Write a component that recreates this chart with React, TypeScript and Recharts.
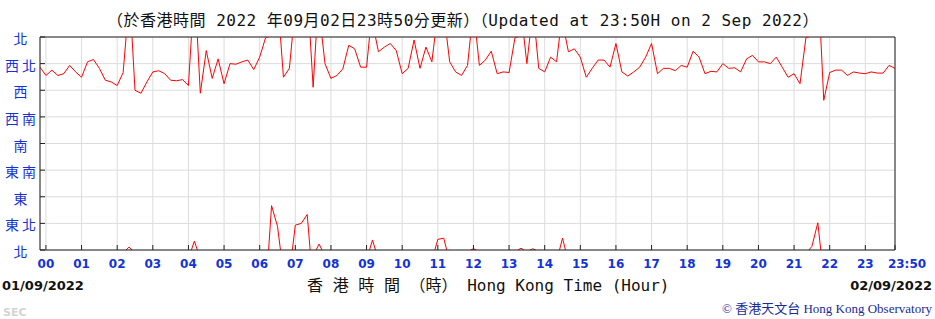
import React from 'react';
import { LineChart, Line, XAxis, YAxis, CartesianGrid, ReferenceLine } from 'recharts';

// 10-min wind direction (deg), from 23:50 on 01/09 to 23:50 on 02/09
const windDirection = [
  309, 295, 304, 295, 298, 312, 301, 292, 318, 322, 307, 287, 284, 278, 300, 5,
  270, 265, 284, 301, 303, 298, 287, 286, 288, 278, 15, 265, 337, 290, 323, 281,
  315, 314, 318, 321, 305, 326, 359, 75, 40, 292, 307, 42, 45, 60, 275, 10,
  315, 290, 295, 306, 346, 340, 309, 309, 17, 335, 343, 349, 337, 298, 307, 355,
  307, 343, 318, 18, 20, 318, 301, 295, 312, 2, 312, 321, 336, 298, 301, 300,
  359, 3, 315, 2, 307, 301, 326, 318, 20, 335, 340, 326, 292, 307, 321, 321,
  309, 349, 301, 294, 301, 309, 326, 349, 298, 307, 307, 303, 312, 309, 336, 326,
  298, 302, 301, 315, 307, 308, 301, 323, 329, 318, 318, 315, 326, 309, 292, 298,
  281, 359, 6, 46, 253, 300, 304, 304, 295, 301, 299, 298, 301, 299, 299, 312,
  307,
];
const startMinute = -10;
const stepMinutes = 10;

const hourTicks = [
  0, 60, 120, 180, 240, 300, 360, 420, 480, 540, 600, 660, 720, 780, 840, 900,
  960, 1020, 1080, 1140, 1200, 1260, 1320, 1380, 1430,
];
const hourLabels = [
  '00', '01', '02', '03', '04', '05', '06', '07', '08', '09', '10', '11', '12',
  '13', '14', '15', '16', '17', '18', '19', '20', '21', '22', '23', '23:50',
];
const dirTicks = [0, 45, 90, 135, 180, 225, 270, 315, 360];
const dirLabelsZh = ['北', '東北', '東', '東南', '南', '西南', '西', '西北', '北'];
const dirLabelsEn = ['N', 'NE', 'E', 'SE', 'S', 'SW', 'W', 'NW', 'N'];

const BLUE = '#1433d6';
const AXIS = '#222';
const MONO = '"DejaVu Sans Mono", "Noto Sans CJK TC", monospace';
const SANS_BOLD = '"DejaVu Sans", Verdana, sans-serif';

// split the line where the direction wraps through north
const chartData: { t: number; dir: number | null }[] = [];
windDirection.forEach((d, i) => {
  const t = startMinute + i * stepMinutes;
  if (i > 0) {
    const prev = windDirection[i - 1];
    if (Math.abs(d - prev) > 180) {
      const mid = t - stepMinutes / 2;
      const up = prev > d;
      chartData.push({ t: mid, dir: up ? 360 : 0 });
      chartData.push({ t: mid, dir: null });
      chartData.push({ t: mid, dir: up ? 0 : 360 });
    }
  }
  chartData.push({ t, dir: d });
});

const BottomTick = (props: any) => {
  const { x, y, index } = props;
  const last = index === hourLabels.length - 1;
  return (
    <g>
      <line x1={x} y1={y} x2={x} y2={y - 5} stroke={AXIS} />
      <text
        x={x + (last ? 12 : 0)}
        y={y + 18}
        textAnchor="middle"
        fill={BLUE}
        fontSize={12}
        fontWeight="bold"
        fontFamily={SANS_BOLD}
      >
        {hourLabels[index]}
      </text>
    </g>
  );
};

const LeftTick = (props: any) => {
  const { x, y, index } = props;
  return (
    <g>
      <line x1={x} y1={y} x2={x + 5} y2={y} stroke={AXIS} />
      <text
        x={x - 18}
        y={y + 1}
        textAnchor="middle"
        dominantBaseline="central"
        fill={BLUE}
        fontSize={14}
        letterSpacing={3}
        fontFamily='"Noto Sans CJK TC", sans-serif'
      >
        {dirLabelsZh[index]}
      </text>
    </g>
  );
};

const RightTick = (props: any) => {
  const { x, y, index } = props;
  return (
    <g>
      <line x1={x} y1={y} x2={x - 5} y2={y} stroke={AXIS} />
      <text
        x={x + 7}
        y={y + 5}
        textAnchor="start"
        fill={BLUE}
        fontSize={12}
        fontWeight="bold"
        fontFamily='"Liberation Sans", Arial, sans-serif'
      >
        {dirLabelsEn[index]}
      </text>
    </g>
  );
};

export default function App() {
  return (
    <div style={{ position: 'absolute', left: 0, top: 0, width: 935, height: 319, background: '#fff' }}>
      <div style={{ position: 'relative', width: 935, height: 319 }}>
        <LineChart
          width={935}
          height={319}
          data={chartData}
          margin={{ top: 37, right: 0, bottom: 0, left: 0 }}
        >
          <CartesianGrid stroke="#dcdcdc" strokeWidth={1} />
          <XAxis
            dataKey="t"
            type="number"
            domain={[-10, 1430]}
            ticks={hourTicks}
            interval={0}
            height={69}
            tickSize={0}
            tickMargin={0}
            tickLine={false}
            axisLine={{ stroke: AXIS }}
            tick={<BottomTick />}
          />
          <YAxis
            type="number"
            domain={[0, 360]}
            ticks={dirTicks}
            interval={0}
            width={40}
            tickSize={0}
            tickMargin={0}
            tickLine={false}
            axisLine={{ stroke: AXIS }}
            tick={<LeftTick />}
            allowDataOverflow
          />
          <YAxis
            yAxisId="r"
            orientation="right"
            type="number"
            domain={[0, 360]}
            ticks={dirTicks}
            interval={0}
            width={40}
            tickSize={0}
            tickMargin={0}
            tickLine={false}
            axisLine={{ stroke: AXIS }}
            tick={<RightTick />}
          />
          <ReferenceLine y={360} stroke={AXIS} />
          <Line
            type="linear"
            dataKey="dir"
            stroke="#ff0000"
            strokeWidth={1}
            dot={false}
            activeDot={false}
            connectNulls={false}
            isAnimationActive={false}
          />
        </LineChart>
        <svg
          width={935}
          height={319}
          style={{ position: 'absolute', left: 0, top: 0, pointerEvents: 'none' }}
        >
          <text x={463} y={26} textAnchor="middle" fontSize={16} letterSpacing={0.5} fontFamily={MONO} fill="#111">
            （於香港時間 2022 年09月02日23時50分更新）（Updated at 23:50H on 2 Sep 2022）
          </text>
          <text x={2} y={290} fontSize={13} fontWeight="bold" fontFamily={SANS_BOLD} fill="#111">
            01/09/2022
          </text>
          <text x={932} y={290} textAnchor="end" fontSize={13} fontWeight="bold" fontFamily={SANS_BOLD} fill="#111">
            02/09/2022
          </text>
          <text x={307} y={291} fontSize={16} fontFamily={MONO} fill="#111">
            香 港 時 間 （時） Hong Kong Time (Hour)
          </text>
          <text x={3} y={316} fontSize={11} fontWeight="bold" fontFamily={SANS_BOLD} fill="#d4d4d4">
            SEC
          </text>
          <text x={932} y={313} textAnchor="end" fontSize={13} fontFamily='"Liberation Serif", "Noto Sans CJK TC", serif' fill="#1a2a9a">
            © 香港天文台 Hong Kong Observatory
          </text>
        </svg>
      </div>
    </div>
  );
}
